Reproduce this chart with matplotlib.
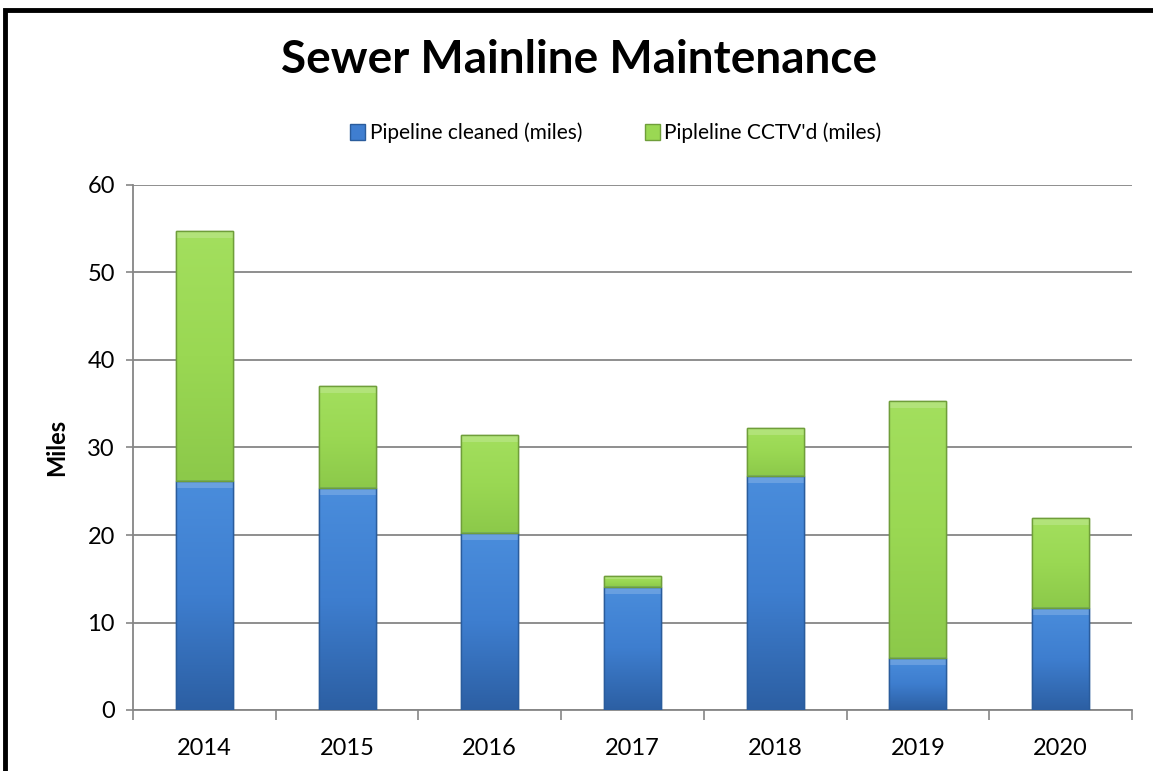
import matplotlib
matplotlib.use("Agg")
import matplotlib.pyplot as plt
from matplotlib.patches import Rectangle, Patch
from matplotlib.colors import LinearSegmentedColormap
import numpy as np

years = ["2014", "2015", "2016", "2017", "2018", "2019", "2020"]
cleaned = [26.2, 25.4, 20.2, 14.1, 26.7, 6.0, 11.7]
cctv = [28.55, 11.6, 11.25, 1.2, 5.5, 29.3, 10.2]
series_names = ["Pipeline cleaned (miles)", "Pipleline CCTV'd (miles)"]
title = "Sewer Mainline Maintenance"
ylabel = "Miles"
yticks = [0, 10, 20, 30, 40, 50, 60]

plt.rcParams['font.family'] = ['Lato', 'DejaVu Sans']

W, H = 1153, 771
fig = plt.figure(figsize=(W / 100, H / 100), dpi=100)
ax = fig.add_axes([133 / W, 1 - 710 / H, (1132 - 133) / W, (710 - 185) / H])

x = np.arange(len(years))
blue = "#3F7ED0"
blue_edge = "#2A5C9C"
green = "#9AD853"
green_edge = "#6F9E3A"
bw = 0.4

b1 = ax.bar(x, cleaned, width=bw, color=blue, edgecolor=blue_edge, linewidth=1.0, zorder=3)
b2 = ax.bar(x, cctv, width=bw, bottom=cleaned, color=green, edgecolor=green_edge, linewidth=1.0, zorder=3)

# gradient shading for the bars (clipped to each bar)
blue_cmap = LinearSegmentedColormap.from_list("bl", ["#2C5FA3", "#3E7ECF", "#4A8DDC"])
green_cmap = LinearSegmentedColormap.from_list("gr", ["#8CC94A", "#9AD853", "#A3DF5E"])
grad = np.linspace(0, 1, 256).reshape(-1, 1)
for bars, cmap in ((b1, blue_cmap), (b2, green_cmap)):
    for p in bars:
        x0, y0 = p.get_x(), p.get_y()
        w, h = p.get_width(), p.get_height()
        im = ax.imshow(grad, extent=[x0, x0 + w, y0, y0 + h], origin='lower', cmap=cmap,
                       aspect='auto', zorder=3.5, interpolation='bicubic')
        im.set_clip_path(p)
        # light top bevel strip
        ax.add_patch(Rectangle((x0, y0 + h - min(0.8, h * 0.3)), w, min(0.8, h * 0.3),
                               facecolor='white', alpha=0.18, edgecolor='none', zorder=3.6))
        ax.add_patch(Rectangle((x0, y0), w, h, facecolor='none', edgecolor=p.get_edgecolor(),
                               linewidth=1.0, zorder=3.7))

ax.set_xlim(-0.5, len(years) - 0.5)
ax.set_ylim(0, 60)
ax.set_yticks(yticks)
ax.set_yticklabels([str(t) for t in yticks], fontsize=17)
ax.set_xticks(x)
ax.set_xticklabels(years, fontsize=17)
ax.tick_params(axis='x', length=0, pad=20)
ax.set_xticks(np.arange(-0.5, len(years) + 0.5, 1), minor=True)
ax.tick_params(axis='x', which='minor', length=7, color="#868686", width=1.2)
ax.tick_params(axis='y', length=5, color="#868686", width=1.2, pad=8)

ax.yaxis.grid(True, color="#868686", linewidth=1.3, zorder=0)
ax.set_axisbelow(True)
for s in ["top", "right"]:
    ax.spines[s].set_visible(False)
for s in ["left", "bottom"]:
    ax.spines[s].set_color("#868686")
    ax.spines[s].set_linewidth(1.3)

ax.set_ylabel(ylabel, fontsize=17, fontweight='bold', labelpad=14)

fig.text(579 / W, 1 - 60 / H, title, fontsize=33, fontweight='bold', ha='center', va='center')

handles = [Patch(facecolor=blue, edgecolor=blue_edge), Patch(facecolor=green, edgecolor=green_edge)]
fig.legend(handles, series_names, loc='center', bbox_to_anchor=(0.534, 1 - 133 / H), ncol=2,
           frameon=False, fontsize=15, handlelength=0.75, handleheight=0.75, handletextpad=0.2,
           columnspacing=3.0)

# border
fig.add_artist(Rectangle((5 / W, -0.05), 1.2, 1 - 10 / H + 0.05, transform=fig.transFigure,
                         fill=False, edgecolor="black", linewidth=3.5))

fig.savefig("out.png", dpi=100, facecolor="white")
